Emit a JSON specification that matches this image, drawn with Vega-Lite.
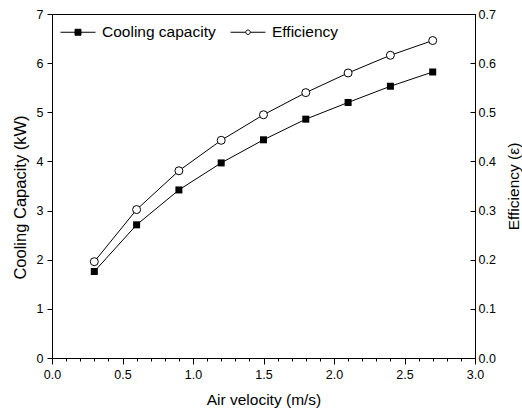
{
  "$schema": "https://vega.github.io/schema/vega-lite/v6.json",
  "width": 423,
  "height": 344,
  "autosize": {"type": "none"},
  "padding": {"left": 52, "top": 14, "right": 47, "bottom": 56},
  "background": "white",
  "config": {
    "font": "Liberation Sans",
    "view": {"stroke": "black", "strokeWidth": 1},
    "axis": {
      "domainColor": "black",
      "tickColor": "black",
      "labelColor": "black",
      "titleColor": "black",
      "labelFont": "Liberation Sans",
      "titleFont": "Liberation Sans",
      "labelFontSize": 12.5,
      "titleFontSize": 15.5,
      "titleFontWeight": "normal",
      "grid": false,
      "domainWidth": 1,
      "tickWidth": 1
    },
    "legend": {
      "orient": "none",
      "legendX": 8,
      "legendY": 0,
      "direction": "horizontal",
      "symbolSize": 1225,
      "symbolStrokeWidth": 1,
      "symbolOpacity": 1,
      "labelFont": "Liberation Sans",
      "labelFontSize": 15.5,
      "labelColor": "black",
      "labelOffset": 6,
      "columnPadding": 12,
      "padding": 0
    }
  },
  "data": {
    "values": [
      {"x": 0.3, "cap": 1.76, "eff": 0.196},
      {"x": 0.6, "cap": 2.71, "eff": 0.302},
      {"x": 0.9, "cap": 3.42, "eff": 0.381},
      {"x": 1.2, "cap": 3.97, "eff": 0.443},
      {"x": 1.5, "cap": 4.44, "eff": 0.495},
      {"x": 1.8, "cap": 4.86, "eff": 0.540},
      {"x": 2.1, "cap": 5.20, "eff": 0.580},
      {"x": 2.4, "cap": 5.53, "eff": 0.616},
      {"x": 2.7, "cap": 5.82, "eff": 0.646}
    ]
  },
  "encoding": {
    "x": {
      "field": "x",
      "type": "quantitative",
      "scale": {"domain": [0, 3], "nice": false},
      "axis": {
        "title": "Air velocity (m/s)",
        "values": [0, 0.1, 0.2, 0.3, 0.4, 0.5, 0.6, 0.7, 0.8, 0.9, 1.0, 1.1, 1.2, 1.3, 1.4, 1.5, 1.6, 1.7, 1.8, 1.9, 2.0, 2.1, 2.2, 2.3, 2.4, 2.5, 2.6, 2.7, 2.8, 2.9, 3.0],
        "labelExpr": "abs(datum.value * 2 - round(datum.value * 2)) < 0.001 ? format(datum.value, '.1f') : ''",
        "labelOverlap": false,
        "labelBound": false,
        "labelFlush": false,
        "tickSize": {"condition": {"test": "abs(datum.value * 2 - round(datum.value * 2)) < 0.001", "value": 6}, "value": 3},
        "labelPadding": 4,
        "titlePadding": 12
      }
    }
  },
  "layer": [
    {
      "layer": [
        {
          "mark": {"type": "line", "color": "black", "strokeWidth": 1},
          "encoding": {
            "y": {
              "field": "cap",
              "type": "quantitative",
              "scale": {"domain": [0, 7], "nice": false},
              "axis": {
                "title": "Cooling Capacity (kW)",
                "values": [0, 1, 2, 3, 4, 5, 6, 7],
                "format": "d",
                "tickSize": 5,
                "labelPadding": 4,
                "titlePadding": 8,
                "titleFontSize": 16.5,
                "titleY": 183
              }
            }
          }
        },
        {
          "mark": {"type": "point", "shape": "square", "filled": true, "color": "black", "size": 49, "opacity": 1},
          "encoding": {
            "y": {"field": "cap", "type": "quantitative"}
          }
        },
        {
          "mark": {"type": "point", "filled": true, "size": 0, "strokeWidth": 1, "opacity": 1, "fillOpacity": 1, "strokeOpacity": 1},
          "encoding": {
            "y": {"field": "cap", "type": "quantitative"},
            "shape": {
              "datum": "Cooling capacity",
              "type": "nominal",
              "scale": {
                "domain": ["Cooling capacity", "Efficiency"],
                "range": [
                  "M-1,0H-0.17M0.17,0H1M-0.17,-0.17H0.17V0.17H-0.17Z",
                  "M-1,0H-0.13M0.13,0H1M-0.13,0A0.13,0.13,0,1,1,0.13,0A0.13,0.13,0,1,1,-0.13,0Z"
                ]
              },
              "legend": {"title": null}
            },
            "fill": {
              "datum": "Cooling capacity",
              "type": "nominal",
              "scale": {"domain": ["Cooling capacity", "Efficiency"], "range": ["black", "white"]},
              "legend": {"title": null}
            },
            "stroke": {
              "datum": "Cooling capacity",
              "type": "nominal",
              "scale": {"domain": ["Cooling capacity", "Efficiency"], "range": ["black", "black"]},
              "legend": {"title": null}
            }
          }
        }
      ]
    },
    {
      "layer": [
        {
          "mark": {"type": "line", "color": "black", "strokeWidth": 1},
          "encoding": {
            "y": {
              "field": "eff",
              "type": "quantitative",
              "scale": {"domain": [0, 0.7], "nice": false},
              "axis": {
                "orient": "right",
                "title": "Efficiency (ε)",
                "values": [0, 0.1, 0.2, 0.3, 0.4, 0.5, 0.6, 0.7],
                "format": ".1f",
                "tickSize": -5,
                "labelPadding": 8,
                "titleAngle": 270,
                "titlePadding": 26
              }
            }
          }
        },
        {
          "mark": {"type": "point", "shape": "circle", "filled": true, "fill": "white", "stroke": "black", "strokeWidth": 1, "size": 64, "opacity": 1, "fillOpacity": 1},
          "encoding": {
            "y": {"field": "eff", "type": "quantitative"}
          }
        }
      ]
    }
  ],
  "resolve": {"scale": {"y": "independent"}}
}
